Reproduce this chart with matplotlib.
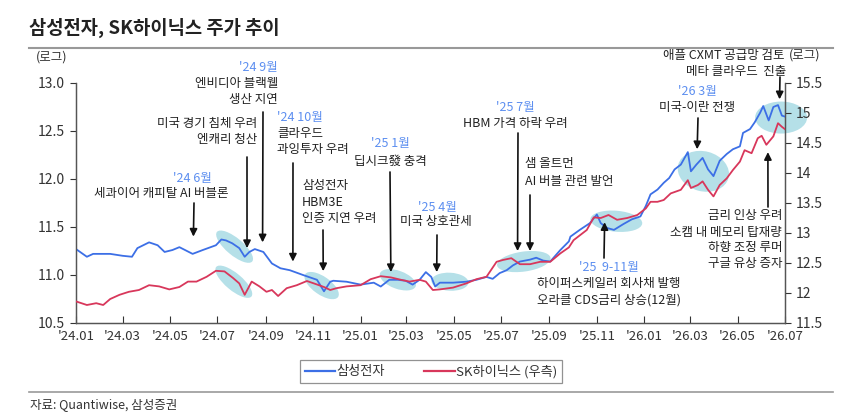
import matplotlib
matplotlib.use('Agg')
import matplotlib.pyplot as plt
import matplotlib.dates as mdates
from matplotlib.patches import Ellipse
from matplotlib.transforms import ScaledTranslation
import pandas as pd

plt.rcParams['font.family'] = ['Noto Sans CJK KR', 'DejaVu Sans']

# 삼성전자 (로그, 좌축)
sec_dates = ['2024-01-01', '2024-01-15', '2024-01-23', '2024-02-14', '2024-03-01', '2024-03-13',
             '2024-03-20', '2024-04-04', '2024-04-15', '2024-04-24', '2024-05-04', '2024-05-13',
             '2024-05-30', '2024-06-12', '2024-06-29', '2024-07-06', '2024-07-12', '2024-07-20',
             '2024-07-29', '2024-08-05', '2024-08-11', '2024-08-18', '2024-08-29', '2024-09-09',
             '2024-09-20', '2024-10-02', '2024-10-19', '2024-11-06', '2024-11-15', '2024-11-23',
             '2024-11-27', '2024-12-14', '2025-01-01', '2025-01-18', '2025-01-27', '2025-02-07',
             '2025-02-18', '2025-02-28', '2025-03-09', '2025-03-18', '2025-03-26', '2025-04-02',
             '2025-04-07', '2025-04-13', '2025-04-30', '2025-05-17', '2025-05-30', '2025-06-12',
             '2025-06-20', '2025-06-29', '2025-07-08', '2025-07-16', '2025-07-25', '2025-08-07',
             '2025-08-15', '2025-08-24', '2025-09-02', '2025-09-15', '2025-09-26', '2025-09-28',
             '2025-10-10', '2025-10-23', '2025-11-01', '2025-11-06', '2025-11-14', '2025-11-23',
             '2025-12-05', '2025-12-16', '2025-12-27', '2026-01-03', '2026-01-09', '2026-01-18',
             '2026-01-26', '2026-02-02', '2026-02-09', '2026-02-17', '2026-02-26', '2026-03-02',
             '2026-03-09', '2026-03-17', '2026-03-24', '2026-03-31', '2026-04-08', '2026-04-17',
             '2026-04-25', '2026-05-04', '2026-05-08', '2026-05-17', '2026-05-23', '2026-05-30',
             '2026-06-03', '2026-06-10', '2026-06-16', '2026-06-22', '2026-06-27', '2026-07-01']
sec_vals = [11.27, 11.19, 11.22, 11.22, 11.20, 11.19,
            11.28, 11.34, 11.31, 11.24, 11.26, 11.29,
            11.22, 11.26, 11.31, 11.37, 11.36, 11.33,
            11.28, 11.19, 11.24, 11.27, 11.24, 11.12,
            11.07, 11.05, 11.00, 10.95, 10.83, 10.93,
            10.94, 10.93, 10.90, 10.92, 10.88, 10.95,
            10.95, 10.94, 10.90, 10.95, 11.03, 10.98,
            10.88, 10.92, 10.92, 10.93, 10.95, 10.98,
            10.96, 11.02, 11.05, 11.10, 11.14, 11.16,
            11.18, 11.15, 11.14, 11.26, 11.35, 11.40,
            11.47, 11.54, 11.63, 11.54, 11.49, 11.47,
            11.53, 11.58, 11.61, 11.72, 11.84, 11.89,
            11.96, 12.01, 12.10, 12.15, 12.28, 12.08,
            12.15, 12.22, 12.10, 12.03, 12.19, 12.26,
            12.31, 12.34, 12.48, 12.52, 12.59, 12.69,
            12.76, 12.61, 12.75, 12.77, 12.66, 12.65]

# SK하이닉스 (로그, 우축)
skh_dates = ['2024-01-01', '2024-01-15', '2024-01-27', '2024-02-05', '2024-02-14', '2024-02-26',
             '2024-03-09', '2024-03-22', '2024-04-04', '2024-04-17', '2024-04-30', '2024-05-13',
             '2024-05-24', '2024-06-04', '2024-06-17', '2024-06-29', '2024-07-10', '2024-07-21',
             '2024-07-29', '2024-08-05', '2024-08-14', '2024-08-24', '2024-09-02', '2024-09-09',
             '2024-09-17', '2024-09-28', '2024-10-11', '2024-10-24', '2024-11-02', '2024-11-15',
             '2024-11-23', '2024-12-01', '2024-12-14', '2025-01-01', '2025-01-14', '2025-01-27',
             '2025-02-09', '2025-02-22', '2025-03-05', '2025-03-18', '2025-03-26', '2025-04-04',
             '2025-04-13', '2025-04-30', '2025-05-17', '2025-05-30', '2025-06-12', '2025-06-25',
             '2025-07-03', '2025-07-14', '2025-07-25', '2025-08-07', '2025-08-20', '2025-09-02',
             '2025-09-15', '2025-09-26', '2025-10-02', '2025-10-19', '2025-10-28', '2025-11-06',
             '2025-11-16', '2025-11-27', '2025-12-10', '2025-12-23', '2026-01-03', '2026-01-09',
             '2026-01-18', '2026-01-26', '2026-02-04', '2026-02-17', '2026-02-26', '2026-03-02',
             '2026-03-11', '2026-03-17', '2026-03-24', '2026-03-31', '2026-04-08', '2026-04-17',
             '2026-04-25', '2026-05-04', '2026-05-10', '2026-05-19', '2026-05-27', '2026-06-01',
             '2026-06-07', '2026-06-16', '2026-06-22', '2026-06-27', '2026-07-01']
skh_vals = [11.86, 11.80, 11.83, 11.80, 11.90, 11.97,
            12.02, 12.05, 12.13, 12.11, 12.06, 12.10,
            12.19, 12.19, 12.27, 12.37, 12.36, 12.25,
            12.16, 11.97, 12.19, 12.11, 12.02, 12.05,
            11.95, 12.08, 12.13, 12.20, 12.16, 12.10,
            12.05, 12.08, 12.11, 12.13, 12.23, 12.28,
            12.26, 12.22, 12.19, 12.22, 12.19, 12.05,
            12.06, 12.09, 12.16, 12.23, 12.27, 12.52,
            12.55, 12.58, 12.48, 12.48, 12.52, 12.52,
            12.66, 12.76, 12.88, 13.05, 13.26, 13.25,
            13.30, 13.22, 13.25, 13.30, 13.41, 13.52,
            13.52, 13.55, 13.66, 13.72, 13.88, 13.75,
            13.80, 13.86, 13.72, 13.61, 13.80, 13.91,
            14.05, 14.19, 14.38, 14.33, 14.58, 14.62,
            14.47, 14.61, 14.83, 14.77, 14.73]

# 이벤트 구간 하이라이트 (중심 날짜, 좌축 값)
hl_dates = ['2024-07-23', '2024-07-22', '2024-11-12', '2025-02-18', '2025-04-26',
            '2025-07-30', '2025-11-26', '2026-03-18', '2026-06-26']
hl_vals = [11.295, 10.93, 10.89, 10.95, 10.93, 11.14, 11.56, 12.08, 12.64]

# 화살표 끝 (날짜, 좌축 값)
arrow_dates = ['2024-05-31', '2024-08-08', '2024-08-28', '2024-10-06', '2024-11-14', '2025-02-09',
               '2025-04-09', '2025-07-22', '2025-08-07', '2025-11-11', '2026-03-10', '2026-06-24',
               '2026-06-09']
arrow_vals = [11.40, 11.28, 11.34, 11.14, 11.04, 11.03, 11.03, 11.25, 11.25, 11.55, 12.31, 12.83, 12.28]

W, H = 855, 420
fig = plt.figure(figsize=(W / 100, H / 100), dpi=100)
ax = fig.add_axes([76 / W, 1 - 323 / H, (785 - 76) / W, (323 - 83) / H])
ax2 = ax.twinx()

blue = '#3c6fe6'
red = '#d8375b'
txt = '#222222'
date_c = '#5d8ff0'

def px(x, y):
    return x / W, 1 - y / H

ax.plot(pd.to_datetime(sec_dates), sec_vals, color=blue, lw=1.3, zorder=3)
ax2.plot(pd.to_datetime(skh_dates), skh_vals, color=red, lw=1.3, zorder=3)

ax.set_xlim(pd.Timestamp('2024-01-01'), pd.Timestamp('2026-07-01'))
ax.set_ylim(10.5, 13.0)
ax2.set_ylim(11.5, 15.5)
ax.set_yticks([10.5, 11.0, 11.5, 12.0, 12.5, 13.0])
ax.set_yticklabels([f'{v:.1f}' for v in ax.get_yticks()])
ax2.set_yticks([11.5, 12, 12.5, 13, 13.5, 14, 14.5, 15, 15.5])
ax2.set_yticklabels([f'{v:g}' for v in ax2.get_yticks()])
ax.xaxis.set_major_locator(mdates.MonthLocator(bymonth=[1, 3, 5, 7, 9, 11]))
ax.xaxis.set_major_formatter(mdates.DateFormatter("'%y.%m"))

for a in (ax, ax2):
    a.spines['top'].set_visible(False)
    for s in a.spines.values():
        s.set_color('#555555')
        s.set_linewidth(0.9)
ax.tick_params(axis='y', direction='out', length=4, labelsize=10, colors='#333333', pad=4)
ax2.tick_params(axis='y', direction='out', length=4, labelsize=10, colors='#333333', pad=4)
ax.tick_params(axis='x', direction='in', length=5, labelsize=9.5, colors='#333333', pad=5)

# 하이라이트 타원 (크기: 픽셀)
hl_shape = [(46, 17, -40), (46, 17, -40), (40, 18, -35), (38, 18, -20), (37, 18, -3),
            (54, 20, 8), (52, 21, -5), (52, 40, -15), (52, 32, 0)]
for d, v, (w, h, ang) in zip(hl_dates, hl_vals, hl_shape):
    tr = fig.dpi_scale_trans + ScaledTranslation(mdates.date2num(pd.Timestamp(d)), v, ax.transData)
    ax.add_patch(Ellipse((0, 0), w / 100, h / 100, angle=ang, transform=tr,
                         facecolor='#a8dbe4', edgecolor='none', alpha=0.85, zorder=1, clip_on=False))

# 화살표 꼬리 위치 (픽셀)
tails = [(194, 203), (247, 157), (263, 112), (293, 163), (323, 230), (390, 172),
         (437, 235), (518, 133), (530, 195), (604, 258), (698, 118), (780, 77), (768, 207)]
for d, v, (tx, ty) in zip(arrow_dates, arrow_vals, tails):
    ax2.annotate('', xy=(mdates.date2num(pd.Timestamp(d)), v), xycoords=ax.transData,
                 xytext=(tx, H - ty), textcoords='figure pixels',
                 arrowprops=dict(arrowstyle='-|>', color='#111111', lw=1.2,
                                 mutation_scale=11, shrinkA=0, shrinkB=0), zorder=6)

fs = 9
def note(x, y, s, ha='left', color=txt):
    fig.text(*px(x, y), s, ha=ha, va='center', fontsize=fs, color=color)

note(192, 178, "'24 6월", 'center', date_c)
note(161, 194, '세콰이어 캐피탈 AI 버블론', 'center')
note(257, 124, '미국 경기 침체 우려', 'right')
note(257, 140, '엔캐리 청산', 'right')
note(278, 68, "'24 9월", 'right', date_c)
note(278, 84, '엔비디아 블랙웰', 'right')
note(278, 100, '생산 지연', 'right')
note(277, 118, "'24 10월", 'left', date_c)
note(277, 133, '클라우드', 'left')
note(277, 149, '과잉투자 우려', 'left')
note(302, 186, '삼성전자', 'left')
note(302, 202, 'HBM3E', 'left')
note(302, 218, '인증 지연 우려', 'left')
note(390, 144, "'25 1월", 'center', date_c)
note(390, 161, '딥시크發 충격', 'center')
note(437, 207, "'25 4월", 'center', date_c)
note(436, 222, '미국 상호관세', 'center')
note(515, 107, "'25 7월", 'center', date_c)
note(515, 123, 'HBM 가격 하락 우려', 'center')
note(525, 164, '샘 올트먼', 'left')
note(525, 181, 'AI 버블 관련 발언', 'left')
note(609, 267, "'25  9-11월", 'center', date_c)
note(609, 284, '하이퍼스케일러 회사채 발행', 'center')
note(609, 300, '오라클 CDS금리 상승(12월)', 'center')
note(697, 91, "'26 3월", 'center', date_c)
note(697, 107, '미국-이란 전쟁', 'center')
note(784, 55, '애플 CXMT 공급망 검토', 'right')
note(786, 72, '메타 클라우드  진출', 'right')
note(782, 216, '금리 인상 우려', 'right')
note(782, 232, '소캠 내 메모리 탑재량', 'right')
note(782, 248, '하향 조정 루머', 'right')
note(782, 264, '구글 유상 증자', 'right')

fig.text(*px(36, 57), '(로그)', ha='left', va='center', fontsize=9, color='#333333')
fig.text(*px(789, 55), '(로그)', ha='left', va='center', fontsize=9, color='#333333')

# 제목, 구분선, 출처
fig.text(*px(29, 28), '삼성전자, SK하이닉스 주가 추이', ha='left', va='center',
         fontsize=13.5, fontweight='bold', color='#222222')
fig.add_artist(plt.Line2D([29 / W, 833 / W], [1 - 48 / H, 1 - 48 / H], color='#999999', lw=1.5))
fig.add_artist(plt.Line2D([29 / W, 833 / W], [1 - 392 / H, 1 - 392 / H], color='#999999', lw=1.2))
fig.text(*px(30, 405), '자료: Quantiwise, 삼성증권', ha='left', va='center', fontsize=9, color='#333333')

h1, = ax.plot([], [], color=blue, lw=1.6, label='삼성전자')
h2, = ax.plot([], [], color=red, lw=1.6, label='SK하이닉스 (우측)')
leg = fig.legend(handles=[h1, h2], loc='center', bbox_to_anchor=px(431, 371.5), ncol=2,
                 fontsize=9.5, frameon=True, fancybox=False, edgecolor='#777777',
                 handlelength=2.3, handletextpad=0.1, columnspacing=3.0,
                 borderpad=0.35, labelcolor='#333333')
leg.get_frame().set_linewidth(0.9)

fig.savefig('out.png', dpi=100)
